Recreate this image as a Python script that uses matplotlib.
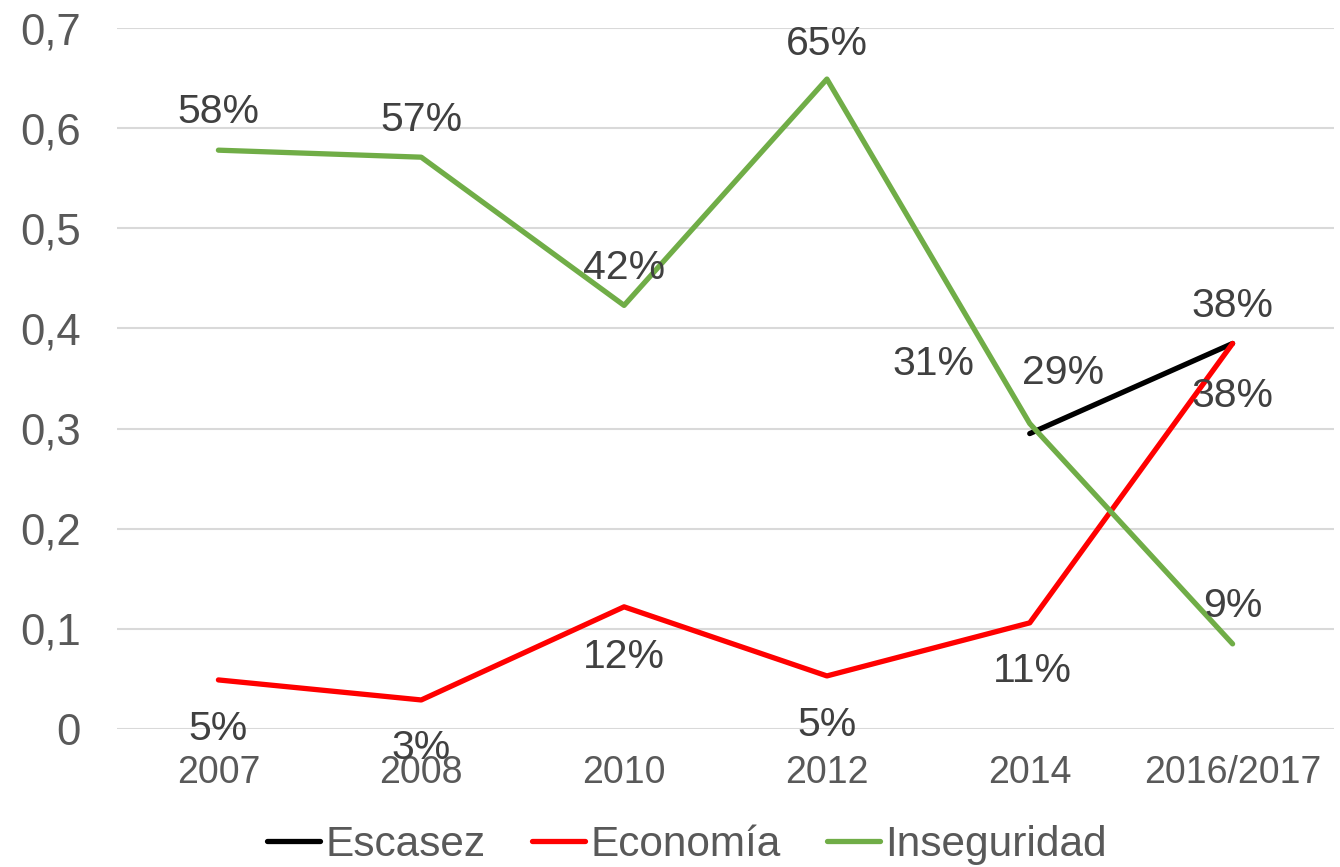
import matplotlib
matplotlib.use('Agg')
import matplotlib.pyplot as plt
from matplotlib.ticker import FuncFormatter

plt.rcParams['font.family'] = ['Liberation Sans', 'DejaVu Sans']

# Data
years = ['2007', '2008', '2010', '2012', '2014', '2016/2017']
inseguridad = [0.578, 0.571, 0.423, 0.649, 0.305, 0.085]
economia = [0.049, 0.029, 0.122, 0.053, 0.106, 0.385]
escasez = [None, None, None, None, 0.295, 0.385]
ins_labels = ['58%', '57%', '42%', '65%', '31%', '9%']
eco_labels = ['5%', '3%', '12%', '5%', '11%', '38%']
esc_labels = [None, None, None, None, '29%', '38%']

# label offsets (pixels, center of text relative to point)
ins_off = [(0, 42), (0, 41), (0, 41), (0, 39), (-96, 63), (0, 41)]
eco_off = [(0, -46), (0, -45), (0, -47), (0, -46), (3, -45), (0, -49)]
esc_off = [None, None, None, None, (33, 64), (0, 41)]

fig, ax = plt.subplots(figsize=(13.4, 8.67), dpi=100)
fig.subplots_adjust(left=117 / 1340, right=1334 / 1340, top=1 - 28 / 867, bottom=1 - 729 / 867)

x = list(range(len(years)))
esc_x = [i for i, v in enumerate(escasez) if v is not None]
esc_y = [v for v in escasez if v is not None]

ax.plot(esc_x, esc_y, color='black', lw=3.8, solid_capstyle='round', label='Escasez', zorder=3)
ax.plot(x, economia, color='#ff0000', lw=3.8, solid_capstyle='round', label='Economía', zorder=3)
ax.plot(x, inseguridad, color='#70ad47', lw=3.8, solid_capstyle='round', label='Inseguridad', zorder=3)

label_color = '#404040'
fs = 29.5
for series, labels, offs in [(inseguridad, ins_labels, ins_off),
                             (economia, eco_labels, eco_off),
                             (escasez, esc_labels, esc_off)]:
    for i, (v, lab, off) in enumerate(zip(series, labels, offs)):
        if v is None:
            continue
        ax.annotate(lab, (i, v), xytext=(off[0], off[1] - 14.5), textcoords='offset pixels',
                    ha='center', va='baseline', fontsize=fs, color=label_color, zorder=4)

ax.set_xlim(-0.5, 5.5)
ax.set_ylim(0, 0.7)
ax.set_yticks([0, 0.1, 0.2, 0.3, 0.4, 0.5, 0.6, 0.7])
ax.yaxis.set_major_formatter(FuncFormatter(lambda v, p: ('%.1f' % v).replace('.', ',') if v else '0'))
ax.set_xticks(x)
ax.set_xticklabels(years)
ax.tick_params(axis='y', length=0, pad=26, labelsize=31.5, labelcolor='#595959')
ax.tick_params(axis='x', length=0, pad=19, labelsize=27, labelcolor='#595959')
ax.grid(axis='y', color='#d9d9d9', lw=1.5)
ax.set_axisbelow(True)
for s in ax.spines.values():
    s.set_visible(False)

fig.legend(loc='center', bbox_to_anchor=(687 / 1340, 1 - 845 / 867), ncol=3, frameon=False,
           fontsize=30.5, labelcolor='#595959', handlelength=1.25, handletextpad=0.12,
           columnspacing=1.1)

fig.savefig('out.png', dpi=100)
plt.close(fig)
